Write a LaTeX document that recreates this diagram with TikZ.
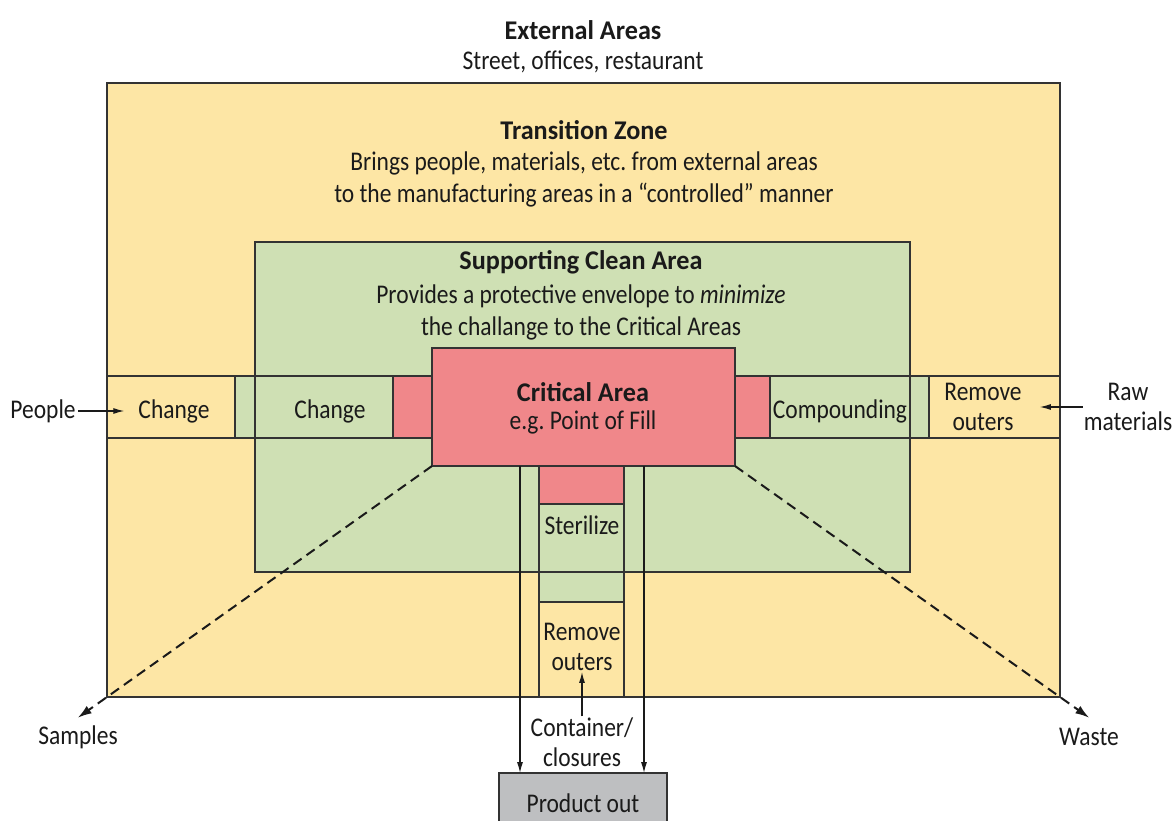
\documentclass[tikz,border=0pt]{standalone}
\usepackage{fontspec}
\setmainfont{Carlito}[FakeStretch=0.87]
\newfontfamily\headfont{Carlito}[FakeStretch=0.97]
\usetikzlibrary{arrows.meta,calc}
\definecolor{yel}{HTML}{FDE6A5}
\definecolor{grn}{HTML}{CFE0B4}
\definecolor{rd}{HTML}{F0878A}
\definecolor{gry}{HTML}{BEBFC1}
\definecolor{edge}{HTML}{333333}
\definecolor{ink}{HTML}{1A1A1A}
\begin{document}
\begin{tikzpicture}[x=1pt,y=-1pt,
  rbox/.style={draw=edge, line width=1.1pt, inner sep=0pt, outer sep=0pt, anchor=north west},
  txt/.style={font=\fontsize{27}{30}\selectfont, text=ink, inner sep=2pt, align=center},
  head/.style={txt, font=\fontsize{27}{30}\selectfont\headfont\bfseries},
  arr/.style={draw=ink, line width=1.2pt, -{Latex[length=11pt,width=6pt]}},
  dsh/.style={draw=ink, line width=2pt, dash pattern=on 10pt off 6pt, -{Latex[length=14pt,width=9pt]}}]
\clip (0,0) rectangle (1173,821);
\fill[white] (0,0) rectangle (1173,821);
% zones
\node[rbox, fill=yel, minimum width=953pt, minimum height=614pt] (outer) at (107,83) {};
\node[rbox, fill=grn, minimum width=655pt, minimum height=330pt] (green) at (255,242) {};
% horizontal band
\node[rbox, fill=yel, minimum width=128pt, minimum height=62pt] (chgA) at (107,376) {};
\node[rbox, fill=grn, minimum width=158pt, minimum height=62pt] (chgB) at (235,376) {};
\node[rbox, fill=rd, minimum width=39pt, minimum height=62pt] (redL) at (393,376) {};
\node[rbox, fill=rd, minimum width=35pt, minimum height=62pt] (redR) at (735,376) {};
\node[rbox, fill=grn, minimum width=159pt, minimum height=62pt] (comp) at (770,376) {};
\node[rbox, fill=yel, minimum width=131pt, minimum height=62pt] (remR) at (929,376) {};
% vertical column
\node[rbox, fill=rd, minimum width=85pt, minimum height=38pt] (redB) at (539,466) {};
\node[rbox, fill=grn, minimum width=85pt, minimum height=98pt] (ster) at (539,504) {};
\node[rbox, fill=yel, minimum width=85pt, minimum height=95pt] (remB) at (539,602) {};
% green area border passing through
\draw[draw=edge, line width=1.1pt] (green.north west) rectangle (green.south east);
% critical area
\node[rbox, fill=rd, minimum width=303pt, minimum height=118pt] (crit) at (432,348) {};
% product out
\node[rbox, fill=gry, minimum width=168pt, minimum height=70pt] (prod) at (499,773) {};
% headings
\node[head] (extH) at (583,30) {External Areas};
\node[txt] (extT) at (583,62) {Street, offices, restaurant};
\node[head] (traH) at (584,130) {Transition Zone};
\node[txt] (traT) at (584,179) {Brings people, materials, etc.\ from external areas\\[2pt]to the manufacturing areas in a “controlled” manner};
\node[head] (supH) at (581,262) {Supporting Clean Area};
\node[txt] (supT) at (581,312) {Provides a protective envelope to \emph{minimize}\\[2pt]the challange to the Critical Areas};
\node[head] (critH) at (583,392) {Critical Area};
\node[txt] (critT) at (583,422) {e.g.\ Point of Fill};
% box labels
\node[txt] (lchgA) at (174,411) {Change};
\node[txt] (lchgB) at (330,411) {Change};
\node[txt] (lcomp) at (840,411) {Compounding};
\node[txt, inner sep=4pt] (lremR) at (983,407) {Remove\\outers};
\node[txt] (lster) at (582,525) {Sterilize};
\node[txt, inner sep=1pt] (lremB) at (582,647) {Remove\\outers};
\node[txt] (lprod) at (583,803) {Product out};
% outside labels
\node[txt] (people) at (43,411) {People};
\node[txt, inner sep=1pt] (raw) at (1128,407) {Raw\\materials};
\node[txt] (samples) at (78,737) {Samples};
\node[txt] (waste) at (1089,737) {Waste};
\node[txt, inner sep=1pt] (cont) at (582,742) {Container/\\closures};
% connectors
\draw[arr] (people.east) -- ($(lchgA.west)+(-12,0)$);
\draw[arr] (raw.west |- lremR.east) -- ($(lremR.east)+(14,0)$);
\draw[arr] (cont.north) -- (lremB.south);
\coordinate (pl) at (520,0);
\coordinate (pr) at (644,0);
\draw[arr] (crit.south -| pl) -- (prod.north -| pl);
\draw[arr] (crit.south -| pr) -- (prod.north -| pr);
\draw[dsh] (crit.south west) -- ($(crit.south west)!1.09!(outer.south west)$);
\draw[dsh] (crit.south east) -- ($(crit.south east)!1.09!(outer.south east)$);
\end{tikzpicture}
\end{document}
